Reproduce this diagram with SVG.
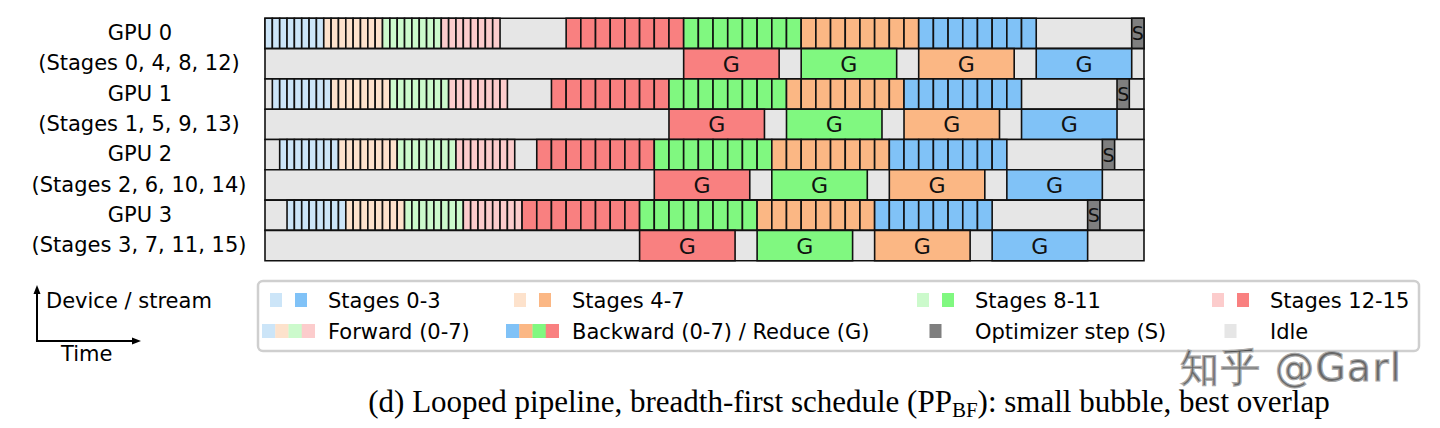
<svg xmlns="http://www.w3.org/2000/svg" width="1440" height="428" viewBox="0 0 1440 428">
<style>
.c{stroke:#111;stroke-width:1.6;vector-effect:non-scaling-stroke}
.idle{fill:#e6e6e6}
.opt{fill:#7f7f7f}
.lb{fill:#cce5f8}.db{fill:#80c2f7}
.lo{fill:#fde2cc}.do{fill:#fbb784}
.lg{fill:#ccfacc}.dg{fill:#80f880}
.lr{fill:#fccccc}.dr{fill:#f98080}
text{font-family:"DejaVu Sans","Liberation Sans",sans-serif;fill:#000}
.lab{font-size:21px;text-anchor:middle}
.g{font-size:22px;text-anchor:middle;fill:#111}
.s{font-size:19px;text-anchor:middle;fill:#111}
.leg{font-size:21px}
.cap{font-family:"Liberation Serif","DejaVu Serif",serif;font-size:31px;text-anchor:middle}
</style>
<defs>
<g id="f8">
<rect class="c" x="0" y="0" width="1" height="30.3"/><rect class="c" x="1" y="0" width="1" height="30.3"/>
<rect class="c" x="2" y="0" width="1" height="30.3"/><rect class="c" x="3" y="0" width="1" height="30.3"/>
<rect class="c" x="4" y="0" width="1" height="30.3"/><rect class="c" x="5" y="0" width="1" height="30.3"/>
<rect class="c" x="6" y="0" width="1" height="30.3"/><rect class="c" x="7" y="0" width="1" height="30.3"/>
</g>
<g id="b8">
<rect class="c" x="0" y="0" width="2" height="30.3"/><rect class="c" x="2" y="0" width="2" height="30.3"/>
<rect class="c" x="4" y="0" width="2" height="30.3"/><rect class="c" x="6" y="0" width="2" height="30.3"/>
<rect class="c" x="8" y="0" width="2" height="30.3"/><rect class="c" x="10" y="0" width="2" height="30.3"/>
<rect class="c" x="12" y="0" width="2" height="30.3"/><rect class="c" x="14" y="0" width="2" height="30.3"/>
</g>
</defs>
<rect width="1440" height="428" fill="#fff"/>

<g id="schedule" transform="translate(265 0) scale(7.345 1)">
<g id="gpu0">
<rect class="c idle" x="0" y="18.3" width="119.673" height="30.3"/>
<use href="#f8" x="0" y="18.3" fill="#cce5f8"/><use href="#f8" x="8" y="18.3" fill="#fde2cc"/>
<use href="#f8" x="16" y="18.3" fill="#ccfacc"/><use href="#f8" x="24" y="18.3" fill="#fccccc"/>
<use href="#b8" x="41" y="18.3" fill="#f98080"/><use href="#b8" x="57" y="18.3" fill="#80f880"/>
<use href="#b8" x="73" y="18.3" fill="#fbb784"/><use href="#b8" x="89" y="18.3" fill="#80c2f7"/>
<rect class="c opt" x="118" y="18.3" width="1.673" height="30.3"/>
<rect class="c idle" x="0" y="48.6" width="119.673" height="30.3"/>
<rect class="c dr" x="57" y="48.6" width="13" height="30.3"/><rect class="c dg" x="73" y="48.6" width="13" height="30.3"/>
<rect class="c do" x="89" y="48.6" width="13" height="30.3"/><rect class="c db" x="105" y="48.6" width="13" height="30.3"/>
</g>
<g id="gpu1">
<rect class="c idle" x="0" y="78.9" width="119.673" height="30.3"/>
<use href="#f8" x="1" y="78.9" fill="#cce5f8"/><use href="#f8" x="9" y="78.9" fill="#fde2cc"/>
<use href="#f8" x="17" y="78.9" fill="#ccfacc"/><use href="#f8" x="25" y="78.9" fill="#fccccc"/>
<use href="#b8" x="39" y="78.9" fill="#f98080"/><use href="#b8" x="55" y="78.9" fill="#80f880"/>
<use href="#b8" x="71" y="78.9" fill="#fbb784"/><use href="#b8" x="87" y="78.9" fill="#80c2f7"/>
<rect class="c opt" x="116" y="78.9" width="1.673" height="30.3"/>
<rect class="c idle" x="0" y="109.2" width="119.673" height="30.3"/>
<rect class="c dr" x="55" y="109.2" width="13" height="30.3"/><rect class="c dg" x="71" y="109.2" width="13" height="30.3"/>
<rect class="c do" x="87" y="109.2" width="13" height="30.3"/><rect class="c db" x="103" y="109.2" width="13" height="30.3"/>
</g>
<g id="gpu2">
<rect class="c idle" x="0" y="139.5" width="119.673" height="30.3"/>
<use href="#f8" x="2" y="139.5" fill="#cce5f8"/><use href="#f8" x="10" y="139.5" fill="#fde2cc"/>
<use href="#f8" x="18" y="139.5" fill="#ccfacc"/><use href="#f8" x="26" y="139.5" fill="#fccccc"/>
<use href="#b8" x="37" y="139.5" fill="#f98080"/><use href="#b8" x="53" y="139.5" fill="#80f880"/>
<use href="#b8" x="69" y="139.5" fill="#fbb784"/><use href="#b8" x="85" y="139.5" fill="#80c2f7"/>
<rect class="c opt" x="114" y="139.5" width="1.673" height="30.3"/>
<rect class="c idle" x="0" y="169.8" width="119.673" height="30.3"/>
<rect class="c dr" x="53" y="169.8" width="13" height="30.3"/><rect class="c dg" x="69" y="169.8" width="13" height="30.3"/>
<rect class="c do" x="85" y="169.8" width="13" height="30.3"/><rect class="c db" x="101" y="169.8" width="13" height="30.3"/>
</g>
<g id="gpu3">
<rect class="c idle" x="0" y="200.1" width="119.673" height="30.3"/>
<use href="#f8" x="3" y="200.1" fill="#cce5f8"/><use href="#f8" x="11" y="200.1" fill="#fde2cc"/>
<use href="#f8" x="19" y="200.1" fill="#ccfacc"/><use href="#f8" x="27" y="200.1" fill="#fccccc"/>
<use href="#b8" x="35" y="200.1" fill="#f98080"/><use href="#b8" x="51" y="200.1" fill="#80f880"/>
<use href="#b8" x="67" y="200.1" fill="#fbb784"/><use href="#b8" x="83" y="200.1" fill="#80c2f7"/>
<rect class="c opt" x="112" y="200.1" width="1.673" height="30.3"/>
<rect class="c idle" x="0" y="230.4" width="119.673" height="30.3"/>
<rect class="c dr" x="51" y="230.4" width="13" height="30.3"/><rect class="c dg" x="67" y="230.4" width="13" height="30.3"/>
<rect class="c do" x="83" y="230.4" width="13" height="30.3"/><rect class="c db" x="99" y="230.4" width="13" height="30.3"/>
</g>
</g>

<g id="box-labels">
<text class="g" x="731.4" y="71.8">G</text><text class="g" x="848.9" y="71.8">G</text><text class="g" x="966.4" y="71.8">G</text><text class="g" x="1084" y="71.8">G</text>
<text class="g" x="716.7" y="132.4">G</text><text class="g" x="834.2" y="132.4">G</text><text class="g" x="951.8" y="132.4">G</text><text class="g" x="1069.3" y="132.4">G</text>
<text class="g" x="702" y="193">G</text><text class="g" x="819.5" y="193">G</text><text class="g" x="937.1" y="193">G</text><text class="g" x="1054.6" y="193">G</text>
<text class="g" x="687.3" y="253.6">G</text><text class="g" x="804.8" y="253.6">G</text><text class="g" x="922.4" y="253.6">G</text><text class="g" x="1039.9" y="253.6">G</text>
<text class="s" x="1137.8" y="40.4">S</text><text class="s" x="1123.2" y="101">S</text><text class="s" x="1108.5" y="161.6">S</text><text class="s" x="1093.8" y="222.2">S</text>
</g>

<g id="row-labels">
<text class="lab" x="140" y="40">GPU 0</text>
<text class="lab" x="139" y="70.3">(Stages 0, 4, 8, 12)</text>
<text class="lab" x="140" y="100.6">GPU 1</text>
<text class="lab" x="139" y="130.9">(Stages 1, 5, 9, 13)</text>
<text class="lab" x="140" y="161.2">GPU 2</text>
<text class="lab" x="139" y="191.5">(Stages 2, 6, 10, 14)</text>
<text class="lab" x="140" y="221.8">GPU 3</text>
<text class="lab" x="139" y="252.1">(Stages 3, 7, 11, 15)</text>
</g>

<g id="axes">
<line x1="37" y1="341" x2="37" y2="293" stroke="#000" stroke-width="2"/>
<polygon points="37,285 33.5,294 40.5,294" fill="#000"/>
<line x1="36" y1="341" x2="133" y2="341" stroke="#000" stroke-width="2"/>
<polygon points="141,341 132,337.5 132,344.5" fill="#000"/>
<text class="leg" x="46" y="308">Device / stream</text>
<text class="leg" x="61" y="361">Time</text>
</g>

<g id="legend">
<rect x="258" y="281" width="1161" height="70" rx="5" fill="#fff" stroke="#cfcfcf" stroke-width="2.5"/>
<rect class="lb" x="270" y="293" width="12" height="14"/><rect class="db" x="295" y="293" width="12" height="14"/>
<text class="leg" x="328" y="308">Stages 0-3</text>
<rect class="lo" x="514" y="293" width="12" height="14"/><rect class="do" x="539" y="293" width="12" height="14"/>
<text class="leg" x="572" y="308">Stages 4-7</text>
<rect class="lg" x="917" y="293" width="12" height="14"/><rect class="dg" x="942" y="293" width="12" height="14"/>
<text class="leg" x="975" y="308">Stages 8-11</text>
<rect class="lr" x="1212" y="293" width="12" height="14"/><rect class="dr" x="1237" y="293" width="12" height="14"/>
<text class="leg" x="1270" y="308">Stages 12-15</text>
<rect class="lb" x="262" y="324" width="13.5" height="14"/><rect class="lo" x="275.25" y="324" width="13.5" height="14"/>
<rect class="lg" x="288.5" y="324" width="13.5" height="14"/><rect class="lr" x="301.75" y="324" width="13.25" height="14"/>
<text class="leg" x="328" y="339">Forward (0-7)</text>
<rect class="db" x="506" y="324" width="13.5" height="14"/><rect class="do" x="519.25" y="324" width="13.5" height="14"/>
<rect class="dg" x="532.5" y="324" width="13.5" height="14"/><rect class="dr" x="545.75" y="324" width="13.25" height="14"/>
<text class="leg" x="572" y="339">Backward (0-7) / Reduce (G)</text>
<rect class="opt" x="929.5" y="324" width="12" height="14"/>
<text class="leg" x="975" y="339">Optimizer step (S)</text>
<rect class="idle" x="1224.5" y="324" width="12" height="14"/>
<text class="leg" x="1270" y="339">Idle</text>
</g>

<text x="1180" y="381" font-family="'Noto Sans CJK SC','DejaVu Sans',sans-serif" font-size="39" letter-spacing="1.5" fill="#fff" fill-opacity="0.6" stroke="#a8a8a8" stroke-width="1.2">知乎 @Garl</text>

<text class="cap" x="849" y="412">(d) Looped pipeline, breadth-first schedule (PP<tspan font-size="21" dy="5">BF</tspan><tspan dy="-5">): small bubble, best overlap</tspan></text>
</svg>
